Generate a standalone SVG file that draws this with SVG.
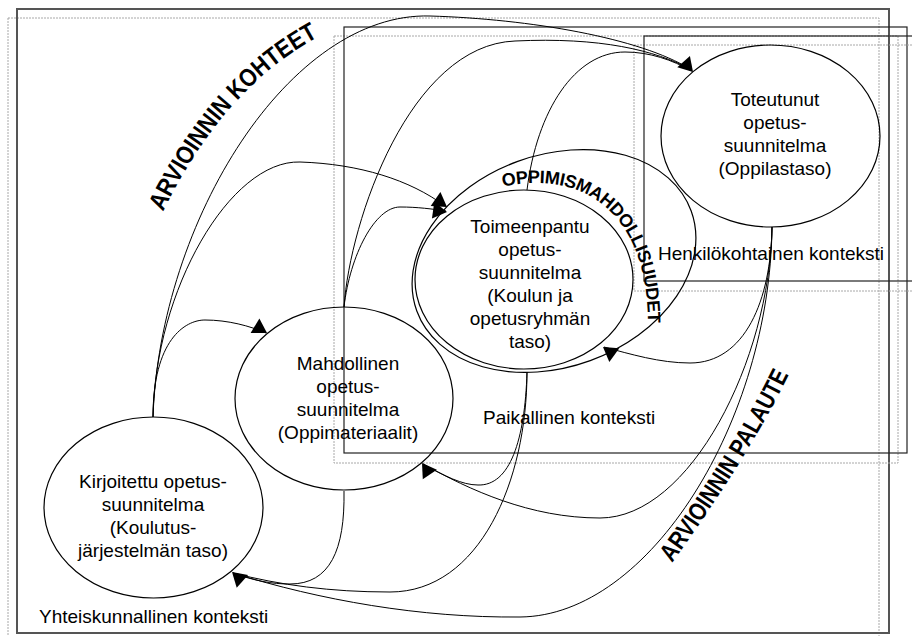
<svg xmlns="http://www.w3.org/2000/svg" width="912" height="636" viewBox="0 0 912 636">
<style>
 .frame{fill:none;stroke:#222;stroke-width:1.2}
 .frame-outer{fill:none;stroke:#555;stroke-width:2}
 .dot{fill:none;stroke:#a8a8a8;stroke-width:1;stroke-dasharray:2 1}
 .node{fill:none;stroke:#000;stroke-width:1.2}
 .conn{fill:none;stroke:#000;stroke-width:1}
 .lbl{font-family:"Liberation Sans",Arial,sans-serif;font-size:19px;fill:#000}
 .ctr{text-anchor:middle}
 .arc{font-family:"Liberation Sans",Arial,sans-serif;font-weight:bold;fill:#000}
</style>
<defs>
 <path id="ah" d="M0,0 L-14,-8.5 L-14,8.5 Z" fill="#000"/>
 <path id="p-kohteet" d="M 163,212 Q 225,85 322,35"/>
 <path id="p-palaute" d="M 672,563 Q 750,455 790,372"/>
 <path id="p-oppi" d="M 503,187 C 575,170 648,205 648,325"/>
</defs>
<rect width="912" height="636" fill="#fff"/>

<g id="contexts">
 <rect class="dot" x="8" y="18" width="871" height="630"/>
 <rect class="frame-outer" x="17" y="9" width="872" height="624"/>
 <rect class="dot" x="334" y="36" width="564" height="427"/>
 <rect class="frame" x="344" y="27" width="563" height="426"/>
 <rect class="dot" x="634" y="45" width="400" height="246"/>
 <rect class="frame" x="644" y="36" width="400" height="245"/>
 <text class="lbl" x="39" y="623">Yhteiskunnallinen konteksti</text>
 <text class="lbl" x="483" y="424">Paikallinen konteksti</text>
 <text class="lbl" x="658" y="260">Henkilökohtainen konteksti</text>
</g>

<g id="n-oppimismahdollisuudet">
 <ellipse class="node" cx="554" cy="261" rx="146" ry="106" transform="rotate(-20 554 261)"/>
 <text class="arc" font-size="18"><textPath href="#p-oppi" textLength="236" lengthAdjust="spacing">OPPIMISMAHDOLLISUUDET</textPath></text>
</g>

<g id="n-kirjoitettu">
 <ellipse class="node" cx="153.5" cy="507.5" rx="109.5" ry="90.5"/>
 <text class="lbl ctr" x="153" y="488">Kirjoitettu opetus-</text>
 <text class="lbl ctr" x="153" y="511">suunnitelma</text>
 <text class="lbl ctr" x="153" y="534">(Koulutus-</text>
 <text class="lbl ctr" x="153" y="557">järjestelmän taso)</text>
</g>

<g id="n-mahdollinen">
 <ellipse class="node" cx="344" cy="398.5" rx="109" ry="91.5"/>
 <text class="lbl ctr" x="348" y="370">Mahdollinen</text>
 <text class="lbl ctr" x="348" y="393">opetus-</text>
 <text class="lbl ctr" x="348" y="416">suunnitelma</text>
 <text class="lbl ctr" x="348" y="439">(Oppimateriaalit)</text>
</g>

<g id="n-toimeenpantu">
 <ellipse class="node" cx="524" cy="279.5" rx="109" ry="89.5"/>
 <text class="lbl ctr" x="530" y="233">Toimeenpantu</text>
 <text class="lbl ctr" x="530" y="256">opetus-</text>
 <text class="lbl ctr" x="530" y="279">suunnitelma</text>
 <text class="lbl ctr" x="530" y="302">(Koulun ja</text>
 <text class="lbl ctr" x="530" y="325">opetusryhmän</text>
 <text class="lbl ctr" x="530" y="348">taso)</text>
</g>

<g id="n-toteutunut">
 <ellipse class="node" cx="770.5" cy="136" rx="109.5" ry="91"/>
 <text class="lbl ctr" x="775" y="106">Toteutunut</text>
 <text class="lbl ctr" x="775" y="129">opetus-</text>
 <text class="lbl ctr" x="775" y="152">suunnitelma</text>
 <text class="lbl ctr" x="775" y="175">(Oppilastaso)</text>
</g>

<g id="labels-arviointi">
 <text class="arc" font-size="25"><textPath href="#p-kohteet" textLength="238" lengthAdjust="spacingAndGlyphs">ARVIOINNIN KOHTEET</textPath></text>
 <text class="arc" font-size="25"><textPath href="#p-palaute" textLength="222" lengthAdjust="spacingAndGlyphs">ARVIOINNIN PALAUTE</textPath></text>
</g>

<g id="connectors">
 <path class="conn" d="M 153,417 C 160,220 290,12 430,16 C 530,19 640,38 690,69"/>
 <path class="conn" d="M 153,417 C 155,290 230,160 300,162 C 360,164 410,180 445,206"/>
 <path class="conn" d="M 153,417 C 153,340 185,320 205,320 C 228,320 250,326 266,333"/>
 <path class="conn" d="M 344,307 C 350,255 375,207 400,207 C 418,207 432,209 446,211"/>
 <path class="conn" d="M 344,307 C 350,220 410,45 515,41 C 600,37 655,50 692,70"/>
 <path class="conn" d="M 527,190 C 537,110 575,52 625,52 C 650,52 672,60 692,71"/>
 <path class="conn" d="M 772,227 C 771,300 745,363 690,363 C 660,363 630,354 604,347"/>
 <path class="conn" d="M 772,227 C 770,360 690,518 600,518 C 530,518 470,490 423,464"/>
 <path class="conn" d="M 772,227 C 770,420 650,616 520,617 C 420,618 320,600 233,573"/>
 <path class="conn" d="M 527,372 C 525,440 510,486 478,485 C 462,485 445,476 423,464"/>
 <path class="conn" d="M 527,372 C 527,480 480,592 390,592 C 330,592 280,585 233,573"/>
 <path class="conn" d="M 344,491 C 345,550 330,584 290,584 C 272,584 255,581 233,573"/>
 <use href="#ah" transform="translate(693,72) rotate(48)"/>
 <use href="#ah" transform="translate(447,207) rotate(35)"/>
 <use href="#ah" transform="translate(447,212) rotate(8)"/>
 <use href="#ah" transform="translate(267,333) rotate(31)"/>
 <use href="#ah" transform="translate(603,347) rotate(216)"/>
 <use href="#ah" transform="translate(422,463) rotate(236)"/>
 <use href="#ah" transform="translate(232,572) rotate(222)"/>
</g>
</svg>
